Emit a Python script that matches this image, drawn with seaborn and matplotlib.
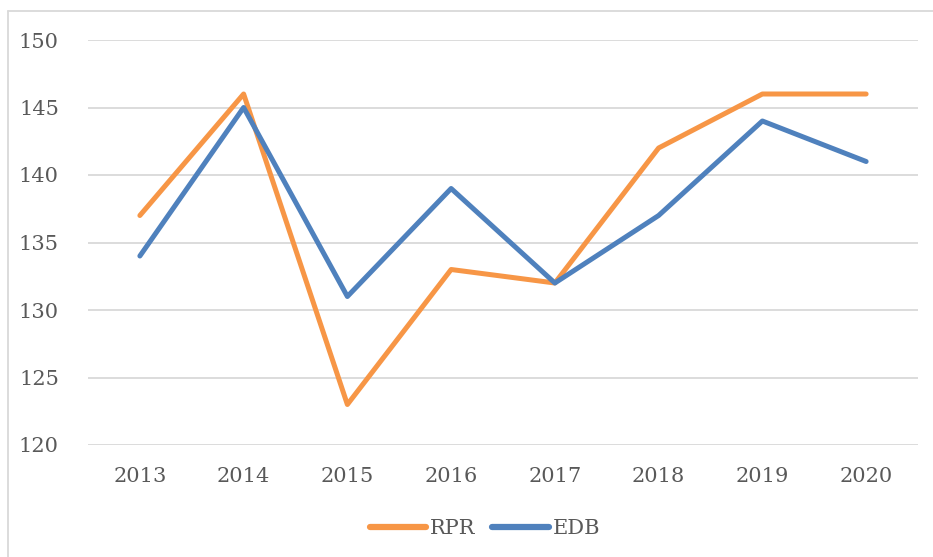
import matplotlib
matplotlib.use("Agg")
import matplotlib.pyplot as plt
import seaborn as sns
import pandas as pd
from matplotlib.lines import Line2D

years = ["2013", "2014", "2015", "2016", "2017", "2018", "2019", "2020"]
rpr = [137, 146, 123, 133, 132, 142, 146, 146]
edb = [134, 145, 131, 139, 132, 137, 144, 141]
series_names = ["RPR", "EDB"]
colors = {"RPR": "#F79646", "EDB": "#4F81BD"}
y_ticks = [120, 125, 130, 135, 140, 145, 150]

df = pd.DataFrame({
    "year": years * 2,
    "value": rpr + edb,
    "series": [series_names[0]] * len(years) + [series_names[1]] * len(years),
})

sns.set_theme(style="white")
plt.rcParams["font.family"] = ["DejaVu Serif"]

fig = plt.figure(figsize=(9.33, 5.57), dpi=100)
ax = fig.add_axes([88/933, 1 - 445/557, (918 - 88)/933, (445 - 40)/557])

sns.lineplot(data=df, x="year", y="value", hue="series", palette=colors,
             linewidth=3.6, ax=ax, sort=False, legend=False)

ax.set_xlim(-0.5, len(years) - 0.5)
ax.set_ylim(120, 150)
ax.set_yticks(y_ticks)
ax.grid(axis="y", color="#D9D9D9", linewidth=1.3)
ax.set_axisbelow(True)
for s in ax.spines.values():
    s.set_visible(False)
ax.set_xlabel("")
ax.set_ylabel("")
ax.tick_params(axis="both", length=0, labelsize=15, labelcolor="#595959")
ax.tick_params(axis="y", pad=21)
ax.tick_params(axis="x", pad=16)

handles = [Line2D([0], [0], color=colors[n], linewidth=4.5, solid_capstyle="round") for n in series_names]
leg = fig.legend(handles, series_names, loc="center", bbox_to_anchor=(485/933, 1 - 529/557),
                 ncol=2, frameon=False, fontsize=15, handlelength=2.7, handletextpad=0.2,
                 columnspacing=0.8)
for t in leg.get_texts():
    t.set_color("#595959")

# outer chart border (left and top visible)
fig.add_artist(Line2D([8/933, 8/933], [0, 1 - 11/557], transform=fig.transFigure, color="#D9D9D9", linewidth=1.3))
fig.add_artist(Line2D([8/933, 1], [1 - 11/557, 1 - 11/557], transform=fig.transFigure, color="#D9D9D9", linewidth=1.3))

fig.savefig("out.png", dpi=100)
